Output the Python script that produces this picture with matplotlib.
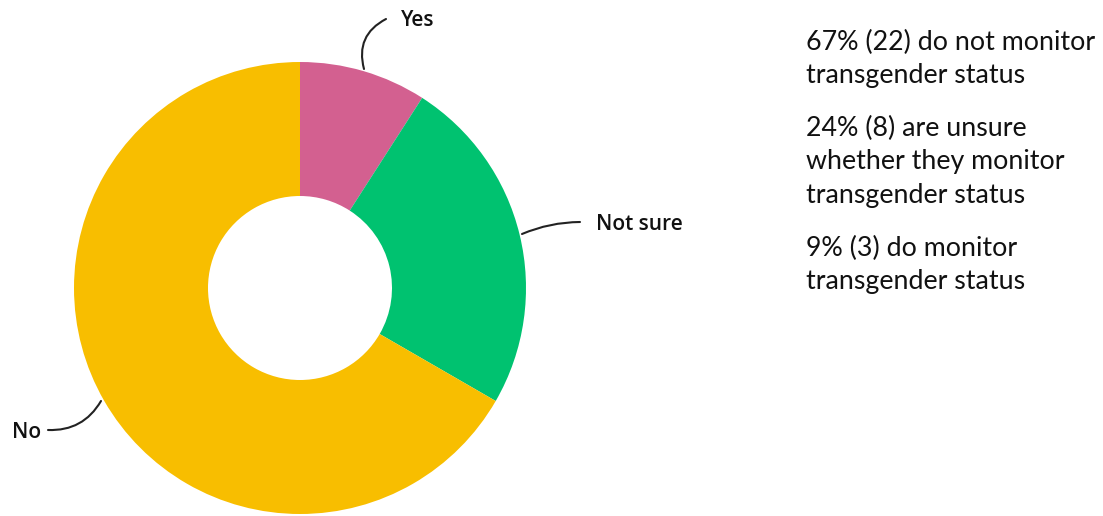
import matplotlib.pyplot as plt

labels = ["Yes", "Not sure", "No"]
counts = [3, 8, 22]
colors = ["#D36090", "#00C270", "#F8BE00"]

notes = [
    ["67% (22) do not monitor", "transgender status"],
    ["24% (8) are unsure", "whether they monitor", "transgender status"],
    ["9% (3) do monitor", "transgender status"],
]

W, H = 1103, 516
fig = plt.figure(figsize=(W / 100, H / 100), dpi=100)
ax = fig.add_axes([0, 0, 1, 1])

ax.pie(counts, colors=colors, startangle=90, counterclock=False,
       radius=226, center=(300, 228),
       wedgeprops=dict(width=134, linewidth=0))
ax.set_xlim(0, W)
ax.set_ylim(0, H)
ax.set_aspect("equal")
ax.axis("off")

label_font = dict(family=["Open Sans", "DejaVu Sans"], fontsize=15,
                  weight="semibold", color="#111111")

# leader lines: (label, start on ring, text anchor, text pos, ha, curvature)
leaders = [
    ("Yes", (364, 447), (386, 497), (401, 496), "left", 0.4),
    ("Not sure", (522, 282), (580, 294), (596, 292), "left", 0.1),
    ("No", (101, 115), (48, 86), (12, 84), "left", 0.3),
]
for name, start, end, pos, ha, rad in leaders:
    ax.annotate("", xy=start, xytext=end,
                arrowprops=dict(arrowstyle="-", color="#222222", lw=1.5,
                                connectionstyle=f"arc3,rad={rad}",
                                shrinkA=0, shrinkB=0))
    ax.text(pos[0], pos[1], name, ha=ha, va="center", **label_font)

note_font = dict(family=["Lato", "DejaVu Sans"], fontsize=19.3, color="#111111")
y = H - 42
for para in notes:
    for line in para:
        ax.text(806, y, line, ha="left", va="center", **note_font)
        y -= 34
    y -= 18

fig.savefig("out.png", dpi=100)
